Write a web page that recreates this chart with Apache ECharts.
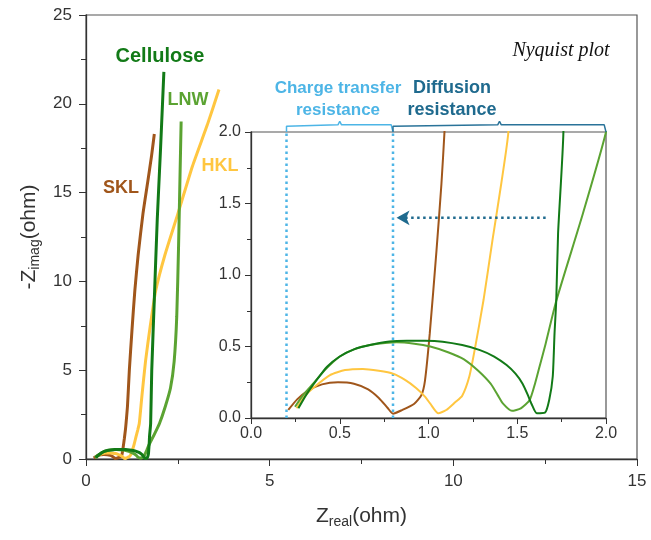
<!DOCTYPE html>
<html>
<head>
<meta charset="utf-8">
<script src="https://cdn.jsdelivr.net/npm/echarts@6/dist/echarts.min.js"></script>
<style>html,body{margin:0;padding:0;background:#fff}#c{width:651px;height:540px}</style>
</head>
<body>
<div id="c"></div>
<script>
// ---- data (Z_real, -Z_imag) in ohm ----
const SKL = [[0.21,0.056],[0.26,0.13],[0.32,0.19],[0.40,0.235],[0.49,0.25],[0.58,0.24],[0.66,0.2],[0.72,0.14],[0.77,0.07],[0.80,0.03],[0.85,0.055],[0.92,0.1],[0.96,0.16],[0.98,0.26],[1.007,0.59],[1.045,1.17],[1.073,1.64],[1.09,2.0],[1.13,3.0],[1.18,5.0],[1.25,7.2],[1.33,9.5],[1.42,11.5],[1.55,13.8],[1.68,15.6],[1.78,17.0],[1.86,18.3]];
const HKL = [[0.257,0.068],[0.30,0.15],[0.35,0.21],[0.445,0.30],[0.53,0.335],[0.63,0.343],[0.72,0.33],[0.80,0.31],[0.87,0.265],[0.93,0.21],[0.98,0.15],[1.01,0.10],[1.055,0.033],[1.10,0.056],[1.15,0.11],[1.19,0.156],[1.23,0.29],[1.26,0.475],[1.31,0.825],[1.36,1.24],[1.41,1.64],[1.45,2.0],[1.52,3.5],[1.62,5.5],[1.75,7.5],[1.9,9.5],[2.15,11.5],[2.5,13.8],[2.9,16.5],[3.3,18.8],[3.62,20.8]];
const LNW = [[0.248,0.079],[0.30,0.17],[0.35,0.24],[0.42,0.34],[0.50,0.43],[0.58,0.48],[0.67,0.51],[0.82,0.53],[0.92,0.52],[1.01,0.50],[1.11,0.46],[1.20,0.41],[1.28,0.33],[1.35,0.24],[1.39,0.16],[1.42,0.10],[1.47,0.05],[1.52,0.068],[1.57,0.126],[1.60,0.24],[1.63,0.38],[1.66,0.52],[1.72,0.82],[1.87,1.43],[2.0,2.0],[2.15,2.9],[2.3,4.0],[2.4,5.5],[2.47,8.0],[2.52,12.0],[2.56,16.0],[2.59,19.0]];
const Cellulose = [[0.267,0.068],[0.31,0.16],[0.37,0.266],[0.43,0.36],[0.50,0.43],[0.58,0.48],[0.67,0.51],[0.78,0.535],[0.877,0.54],[0.98,0.54],[1.08,0.534],[1.19,0.51],[1.29,0.475],[1.37,0.43],[1.44,0.37],[1.49,0.31],[1.53,0.24],[1.56,0.16],[1.58,0.10],[1.61,0.033],[1.656,0.037],[1.68,0.126],[1.70,0.29],[1.71,0.59],[1.72,0.83],[1.73,1.29],[1.76,2.0],[1.79,5.0],[1.86,9.0],[1.94,13.5],[2.03,17.5],[2.12,21.8]];
const seriesNames = ['SKL','HKL','LNW','Cellulose'];
const mainXTicks = [0,5,10,15];
const mainYTicks = [0,5,10,15,20,25];
const chargeTransferBounds = [0.2, 0.8];
const diffusionBounds = [0.8, 2.0];
const arrowFrom = [1.66, 1.4];
const arrowTo = [0.82, 1.4];

const colors = {SKL:'#A0561B', HKL:'#FFC640', LNW:'#5BA332', Cellulose:'#127A17'};
const dataMap = {SKL, HKL, LNW, Cellulose};

const chart = echarts.init(document.getElementById('c'), null, {renderer:'canvas'});
const FONT = 'Liberation Sans, Arial, sans-serif';

const series = [];
seriesNames.forEach(n => {
  series.push({type:'line', name:n+'_main', xAxisIndex:0, yAxisIndex:0, data:dataMap[n], showSymbol:false, smooth:0.2,
    lineStyle:{color:colors[n], width:3}, z:3});
});
seriesNames.forEach(n => {
  series.push({type:'line', name:n+'_inset', xAxisIndex:1, yAxisIndex:1, data:dataMap[n], showSymbol:false, smooth:0.2,
    lineStyle:{color:colors[n], width:2}, z:12});
});
function bracket(a, b) {
  const m = (a + b) / 2;
  return [[a,2.0],[a,2.04],[a+0.01,2.05],[m-0.01,2.05],[m,2.075],[m+0.01,2.05],[b-0.01,2.05],[b,2.04],[b,2.0]];
}
series.push({type:'line', xAxisIndex:1, yAxisIndex:1, data:bracket(chargeTransferBounds[0], chargeTransferBounds[1]), showSymbol:false, clip:false,
  lineStyle:{color:'#4DB5E6', width:1.5}, z:13});
series.push({type:'line', xAxisIndex:1, yAxisIndex:1, data:bracket(diffusionBounds[0], diffusionBounds[1]), showSymbol:false, clip:false,
  lineStyle:{color:'#2A7399', width:1.5}, z:13});
// dotted vertical guide lines
chargeTransferBounds.forEach(v => {
  series.push({type:'line', xAxisIndex:1, yAxisIndex:1, data:[[v,0],[v,2]], showSymbol:false, clip:false,
    lineStyle:{color:'#4DB5E6', width:2.5, type:[2.5,3.5]}, z:11});
});
// dotted arrow
series.push({type:'line', xAxisIndex:1, yAxisIndex:1, z:14, clip:false,
  data:[{value:arrowFrom, symbol:'none'}, {value:arrowTo, symbol:'arrow', symbolSize:[11,13], symbolRotate:90}],
  showSymbol:true, symbolKeepAspect:false,
  itemStyle:{color:'#1F6A8E'},
  lineStyle:{color:'#1F6A8E', width:2.5, type:[2.5,3.5]}});

const axisLabelMain = {color:'#333', fontSize:17, fontFamily:FONT};
const axisLabelInset = {color:'#333', fontSize:16, fontFamily:FONT};
const axLine = {show:true, lineStyle:{color:'#333', width:1.3}};

const option = {
  animation:false,
  backgroundColor:'#fff',
  grid:[
    {left:86, top:15, width:551, height:444, show:true, borderColor:'#555', borderWidth:1.2, backgroundColor:'transparent'},
    {left:251, top:132, width:355, height:286, show:true, borderColor:'#555', borderWidth:1.2, backgroundColor:'#fff', z:10}
  ],
  xAxis:[
    {type:'value', gridIndex:0, min:mainXTicks[0], max:mainXTicks[mainXTicks.length-1], interval:5,
     axisLine:axLine, axisTick:{show:true, inside:false, length:7, lineStyle:{color:'#333'}},
     minorTick:{show:true, splitNumber:2, length:5, lineStyle:{color:'#333'}},
     splitLine:{show:false}, axisLabel:Object.assign({margin:14}, axisLabelMain),
     name:'Z{s|real}(ohm)', nameLocation:'middle', nameGap:44,
     nameTextStyle:{color:'#333', fontSize:21, fontFamily:FONT, rich:{s:{fontSize:14, fontFamily:FONT, color:'#333', padding:[12,0,0,0]}}}},
    {type:'value', gridIndex:1, min:0, max:2, interval:0.5, z:11,
     axisLine:axLine, axisTick:{show:true, length:6, lineStyle:{color:'#333'}},
     minorTick:{show:true, splitNumber:2, length:4, lineStyle:{color:'#333'}},
     splitLine:{show:false}, axisLabel:Object.assign({margin:8, formatter:v=>v.toFixed(1)}, axisLabelInset)}
  ],
  yAxis:[
    {type:'value', gridIndex:0, min:mainYTicks[0], max:mainYTicks[mainYTicks.length-1], interval:5,
     axisLine:axLine, axisTick:{show:true, length:7, lineStyle:{color:'#333'}},
     minorTick:{show:true, splitNumber:2, length:5, lineStyle:{color:'#333'}},
     splitLine:{show:false}, axisLabel:Object.assign({margin:14}, axisLabelMain),
     name:'-Z{s|imag}(ohm)', nameLocation:'middle', nameGap:40,
     nameTextStyle:{color:'#333', fontSize:21, fontFamily:FONT, rich:{s:{fontSize:14, fontFamily:FONT, color:'#333', padding:[12,0,0,0]}}}},
    {type:'value', gridIndex:1, min:0, max:2, interval:0.5, z:11,
     axisLine:axLine, axisTick:{show:true, length:6, lineStyle:{color:'#333'}},
     minorTick:{show:true, splitNumber:2, length:4, lineStyle:{color:'#333'}},
     splitLine:{show:false}, axisLabel:Object.assign({margin:10, formatter:v=>v.toFixed(1)}, axisLabelInset)}
  ],
  graphic:[
    {type:'text', x:160, y:56, style:{text:'Cellulose', fill:colors.Cellulose, font:'bold 20px '+FONT, align:'center', verticalAlign:'middle'}},
    {type:'text', x:188, y:100, style:{text:'LNW', fill:colors.LNW, font:'bold 18px '+FONT, align:'center', verticalAlign:'middle'}},
    {type:'text', x:121, y:188, style:{text:'SKL', fill:colors.SKL, font:'bold 18px '+FONT, align:'center', verticalAlign:'middle'}},
    {type:'text', x:220, y:166, style:{text:'HKL', fill:colors.HKL, font:'bold 18px '+FONT, align:'center', verticalAlign:'middle'}},
    {type:'text', x:561, y:51, style:{text:'Nyquist plot', fill:'#111', font:'italic 20px Liberation Serif, Times New Roman, serif', align:'center', verticalAlign:'middle'}},
    {type:'text', x:338, y:99, style:{text:'Charge transfer\nresistance', fill:'#4DB5E6', font:'bold 17px '+FONT, align:'center', verticalAlign:'middle', lineHeight:22}},
    {type:'text', x:452, y:99, style:{text:'Diffusion\nresistance', fill:'#1F6A8E', font:'bold 18px '+FONT, align:'center', verticalAlign:'middle', lineHeight:22}}
  ],
  series: series
};
chart.setOption(option);
</script>
</body>
</html>
